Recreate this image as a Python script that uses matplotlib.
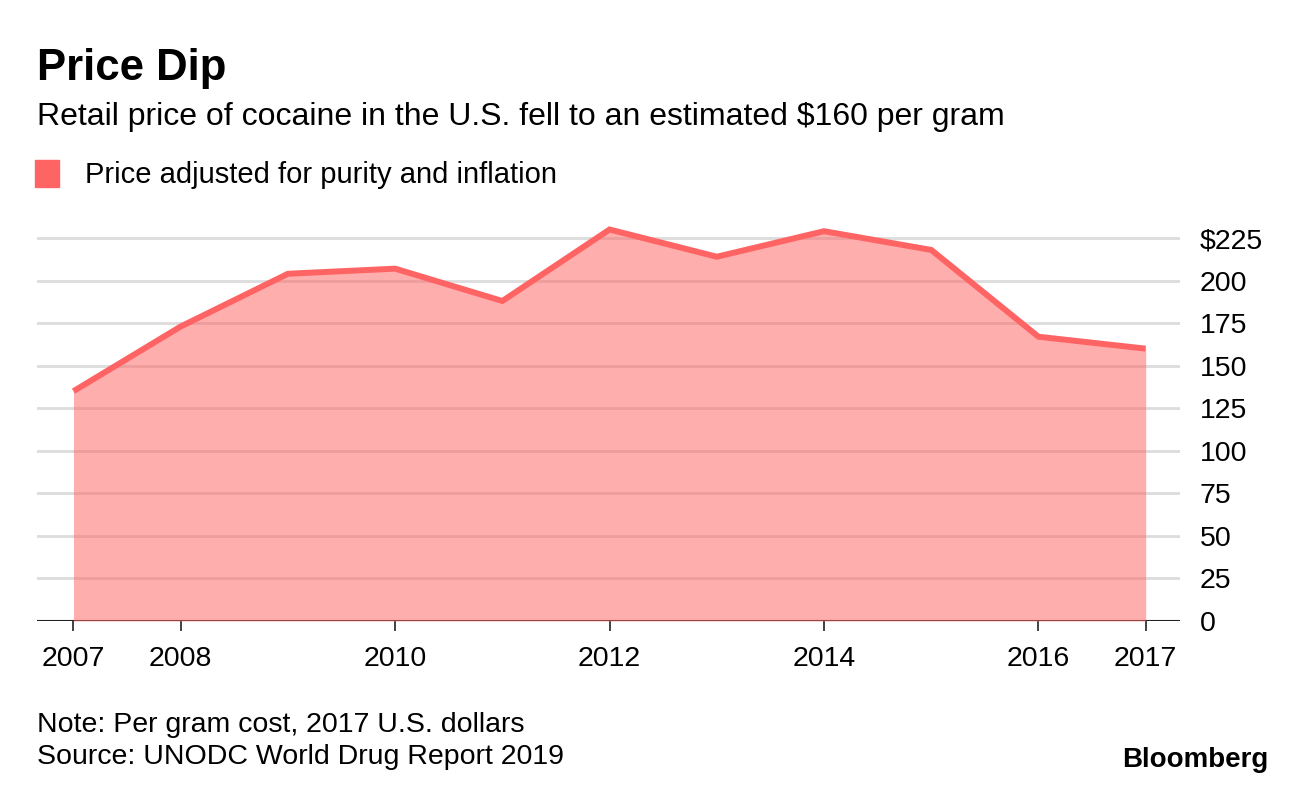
import matplotlib.pyplot as plt

plt.rcParams["font.family"] = ["Liberation Sans", "DejaVu Sans"]

# data
years = [2007, 2008, 2009, 2010, 2011, 2012, 2013, 2014, 2015, 2016, 2017]
price = [135, 173, 204, 207, 188, 230, 214, 229, 218, 167, 160]
year_ticks = [2007, 2008, 2010, 2012, 2014, 2016, 2017]
price_ticks = [0, 25, 50, 75, 100, 125, 150, 175, 200, 225]
price_labels = ["0", "25", "50", "75", "100", "125", "150", "175", "200", "$225"]

LINE = "#ff6464"
GRID = "#dcdcdc"

fig = plt.figure(figsize=(12.96, 7.88), dpi=100)
ax = fig.add_axes([37 / 1296, 1 - 621 / 788, (1180 - 37) / 1296, 400 / 788])

ax.fill_between(years, price, 0, color=LINE, alpha=0.52, linewidth=0, zorder=2)
ax.plot(years, price, color=LINE, linewidth=4.3, solid_capstyle="butt",
        solid_joinstyle="miter", zorder=3)

ax.set_xlim(2006.66, 2017.32)
ax.set_ylim(0, 235)

for v in price_ticks[1:]:
    ax.axhline(v, color=GRID, linewidth=2.0, zorder=1)
ax.axhline(0, color="#222222", linewidth=1.5, zorder=1)

ax.yaxis.tick_right()
ax.set_yticks(price_ticks)
ax.set_yticklabels(price_labels, fontsize=20.5)
ax.tick_params(axis="y", length=0, pad=14)
for lab in ax.get_yticklabels():
    lab.set_horizontalalignment("left")

ax.set_xticks(year_ticks)
ax.set_xticklabels([str(y) for y in year_ticks], fontsize=20.5)
ax.tick_params(axis="x", length=7, width=1.2, color="#222222", pad=11)

for s in ax.spines.values():
    s.set_visible(False)

# header
fig.text(37 / 1296, 1 - 80 / 788, "Price Dip", fontsize=31.5, fontweight="bold",
         va="baseline")
fig.text(37 / 1296, 1 - 125 / 788,
         "Retail price of cocaine in the U.S. fell to an estimated $160 per gram",
         fontsize=23, va="baseline")
fig.patches.append(plt.Rectangle((35 / 1296, 1 - 187 / 788), 24 / 1296, 27 / 788,
                                 transform=fig.transFigure, color=LINE))
fig.text(85 / 1296, 1 - 183 / 788, "Price adjusted for purity and inflation",
         fontsize=21, va="baseline")

# footer
fig.text(37 / 1296, 1 - 732 / 788, "Note: Per gram cost, 2017 U.S. dollars",
         fontsize=20.5, va="baseline")
fig.text(37 / 1296, 1 - 764 / 788, "Source: UNODC World Drug Report 2019",
         fontsize=20.5, va="baseline")
fig.text(1268 / 1296, 1 - 767 / 788, "Bloomberg", fontsize=20, fontweight="bold",
         ha="right", va="baseline")

fig.savefig("out.png", dpi=100)
